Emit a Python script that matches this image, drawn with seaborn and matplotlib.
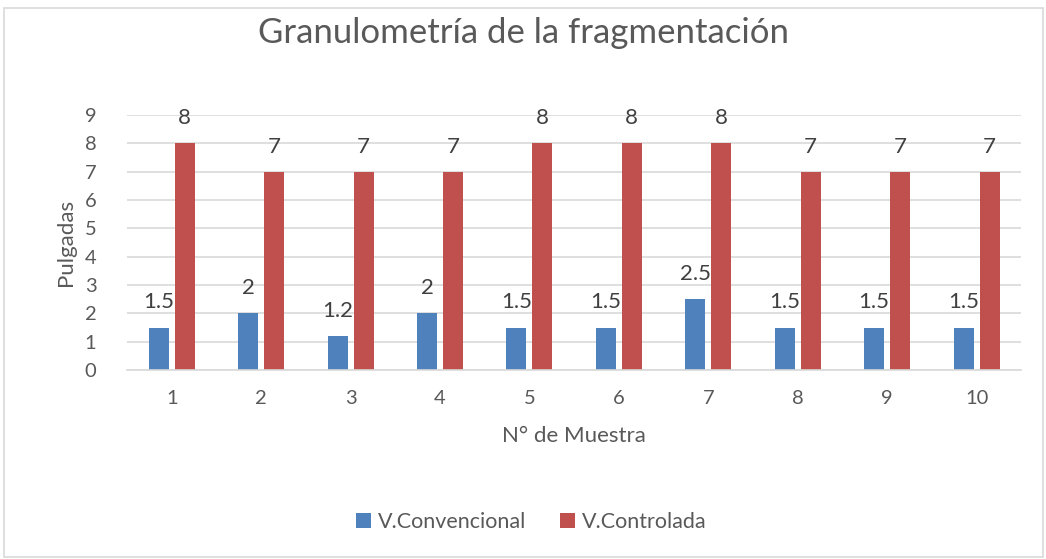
import pandas as pd
import seaborn as sns
import matplotlib.pyplot as plt
from matplotlib.patches import Rectangle

# data
muestras = ['1', '2', '3', '4', '5', '6', '7', '8', '9', '10']
convencional = [1.5, 2, 1.2, 2, 1.5, 1.5, 2.5, 1.5, 1.5, 1.5]
controlada = [8, 7, 7, 7, 8, 8, 8, 7, 7, 7]
series = ['V.Convencional', 'V.Controlada']
colores = ['#4F81BD', '#C0504D']

df = pd.DataFrame({
    'muestra': muestras * 2,
    'valor': convencional + controlada,
    'serie': [series[0]] * len(muestras) + [series[1]] * len(muestras),
})

sns.set_theme(style='white')
plt.rcParams['font.family'] = ['Lato', 'DejaVu Sans']
txt = '#595959'
grid = '#D9D9D9'

fig = plt.figure(figsize=(10.46, 5.59), dpi=100)
ax = fig.add_axes([0.1214, 0.338, 0.855, 0.456])

sns.barplot(data=df, x='muestra', y='valor', hue='serie', palette=colores,
            width=0.58, gap=0.23, saturation=1, linewidth=0, ax=ax, legend=True)

# data labels above each bar
for cont in ax.containers:
    ax.bar_label(cont, labels=[f'{v:g}' for v in cont.datavalues],
                 padding=11, fontsize=16, color='#404040')

ax.set_ylim(0, 9)
ax.set_yticks(range(0, 10))
ax.set_xlim(-0.5, len(muestras) - 0.5)
ax.yaxis.grid(True, color=grid, linewidth=1.2)
ax.set_axisbelow(True)
for s in ['top', 'right', 'left']:
    ax.spines[s].set_visible(False)
ax.spines['bottom'].set_color(grid)
ax.spines['bottom'].set_linewidth(1.2)
ax.tick_params(axis='both', length=0, labelsize=14.5, labelcolor=txt)
ax.tick_params(axis='y', pad=22)
ax.tick_params(axis='x', pad=14)

ax.set_xlabel('N° de Muestra', fontsize=16, color=txt, labelpad=14)
ax.set_ylabel('Pulgadas', fontsize=16, color=txt, labelpad=6)

fig.suptitle('Granulometría de la fragmentación', fontsize=25, color=txt, y=0.97)

handles, labels = ax.get_legend_handles_labels()
ax.legend_.remove()
fig.legend(handles, labels, loc='center', bbox_to_anchor=(0.508, 0.066), ncol=2,
           frameon=False, fontsize=15.5, labelcolor=txt, handlelength=0.7,
           handleheight=0.7, handletextpad=0.3, columnspacing=1.6)

# light chart border like the spreadsheet frame
fig.patches.append(Rectangle((0.004, 0.003), 0.993, 0.982, transform=fig.transFigure,
                             fill=False, edgecolor=grid, linewidth=1.2))

fig.savefig('out.png', dpi=100)
